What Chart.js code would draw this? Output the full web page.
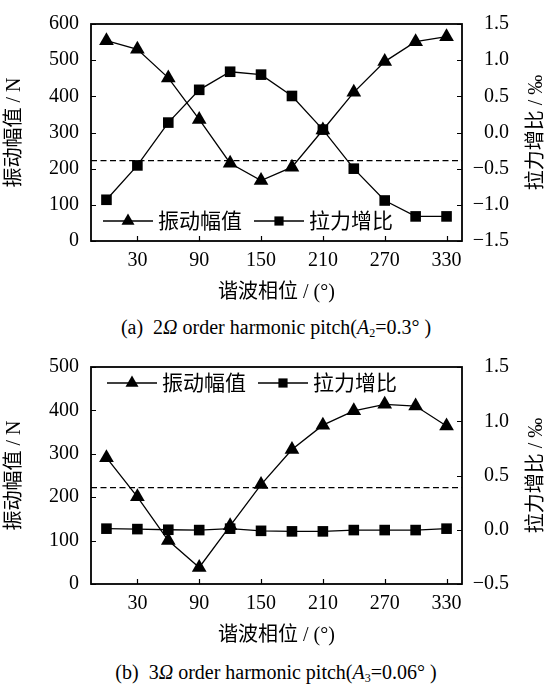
<!DOCTYPE html>
<html><head><meta charset="utf-8">
<script src="https://cdn.jsdelivr.net/npm/chart.js@4.4.1/dist/chart.umd.min.js"></script>
<style>
html,body{margin:0;padding:0;background:#fff;}
body{width:552px;height:684px;position:relative;overflow:hidden;}
.box{position:absolute;left:0;width:552px;height:312px;}
.cap{position:absolute;left:0;width:552px;text-align:center;font-family:'Liberation Serif','Noto Sans CJK SC',serif;font-size:20px;line-height:24px;color:#000;white-space:pre;}
.cap sub{font-size:12px;vertical-align:-3px;line-height:0}
</style></head>
<body>
<div class="box" style="top:0"><canvas id="cA"></canvas></div>
<div class="cap" style="top:315px">(a)  2<i>Ω</i> order harmonic pitch(<i>A</i><sub>2</sub>=0.3° )</div>
<div class="box" style="top:343px"><canvas id="cB"></canvas></div>
<div class="cap" style="top:660px">(b)  3<i>Ω</i> order harmonic pitch(<i>A</i><sub>3</sub>=0.06° )</div>
<script>
// ---- data ----
const phases = [0, 30, 60, 90, 120, 150, 180, 210, 240, 270, 300, 330];
const xTicks = [30, 90, 150, 210, 270, 330];
const xRange = [-15, 345];
const seriesNames = ['振动幅值', '拉力增比'];
const ampA   = [554, 530, 451, 336, 215, 167, 204, 307, 411, 496, 551, 565];
const ratioA = [-0.93, -0.455, 0.137, 0.59, 0.84, 0.80, 0.505, 0.04, -0.50, -0.94, -1.16, -1.16];
const ampB   = [291, 201, 100, 38, 134, 229, 310, 366, 399, 414, 410, 364];
const ratioB = [0.01, 0.006, 0, -0.003, 0.01, -0.01, -0.015, -0.015, -0.003, -0.003, -0.003, 0.01];
const refLevel = 222;
const leftTitle = '振动幅值 / N';
const rightTitle = '拉力增比 / ‰';
const xTitle = '谐波相位 / (°)';

const FONT = "'Liberation Serif','Noto Sans CJK SC',serif";

const framePlugin = {
  id: 'frameTicks',
  afterDatasetsDraw(chart, args, opts) {
    const {ctx, chartArea: a, scales} = chart;
    ctx.save();
    ctx.strokeStyle = '#000';
    ctx.lineWidth = 1.2;
    ctx.beginPath();
    const L = 5;
    scales.x.ticks.forEach(t => { const p = Math.round(scales.x.getPixelForValue(t.value)) + 0.5; ctx.moveTo(p, a.bottom); ctx.lineTo(p, a.bottom - L); });
    scales.y.ticks.forEach(t => { const p = Math.round(scales.y.getPixelForValue(t.value)) + 0.5; ctx.moveTo(a.left, p); ctx.lineTo(a.left + L, p); });
    scales.y1.ticks.forEach(t => { const p = Math.round(scales.y1.getPixelForValue(t.value)) + 0.5; ctx.moveTo(a.right, p); ctx.lineTo(a.right - L, p); });
    ctx.stroke();
    ctx.lineWidth = 1.8;
    ctx.strokeRect(a.left, a.top, a.right - a.left, a.bottom - a.top);
    // right axis title (reads bottom to top)
    ctx.translate(opts.rightTitleX, (a.top + a.bottom) / 2);
    ctx.rotate(-Math.PI / 2);
    ctx.font = '20px ' + FONT;
    ctx.fillStyle = '#000';
    ctx.textAlign = 'center';
    ctx.textBaseline = 'middle';
    ctx.fillText(rightTitle, 0, 0);
    ctx.restore();
  }
};

function drawMarker(ctx, style, x, y, r) {
  ctx.beginPath();
  if (style === 'triangle') {
    for (let i = 0; i < 3; i++) {
      const ang = i * 2 * Math.PI / 3;
      const px = x + Math.sin(ang) * r, py = y - Math.cos(ang) * r;
      if (i === 0) ctx.moveTo(px, py); else ctx.lineTo(px, py);
    }
    ctx.closePath();
  } else {
    const s = r * Math.SQRT1_2;
    ctx.rect(x - s, y - s, 2 * s, 2 * s);
  }
  ctx.fill();
}

const legendPlugin = {
  id: 'innerLegend',
  afterDraw(chart, args, opts) {
    const {ctx, chartArea: a} = chart;
    let x = a.left + opts.dx;
    const y = opts.fromBottom ? a.bottom - opts.dy : a.top + opts.dy;
    ctx.save();
    ctx.font = '21px ' + FONT;
    ctx.textBaseline = 'middle';
    ctx.textAlign = 'left';
    ctx.fillStyle = '#000';
    ctx.strokeStyle = '#000';
    [0, 1].forEach(i => {
      const ds = chart.data.datasets[i];
      ctx.lineWidth = 1.3;
      ctx.beginPath();
      ctx.moveTo(x, y); ctx.lineTo(x + 50, y);
      ctx.stroke();
      drawMarker(ctx, ds.pointStyle, x + 25, y, ds.pointStyle === 'triangle' ? 7.5 : 6.5);
      ctx.fillText(ds.label, x + 55, y + 1);
      x += 55 + ctx.measureText(ds.label).width + 12;
    });
    ctx.restore();
  }
};

function fmtRatio(v) {
  if (Math.abs(v) < 1e-9) return '0.0';
  return (v < 0 ? '−' : '') + Math.abs(v).toFixed(1);
}

function makeChart(id, amp, ratio, yMax, rMin, rMax, legendOpts) {
  const ampPts = phases.map((p, i) => ({x: p, y: amp[i]}));
  const ratioPts = phases.map((p, i) => ({x: p, y: ratio[i]}));
  const refPts = xRange.map(p => ({x: p, y: refLevel}));
  return new Chart(document.getElementById(id), {
    type: 'line',
    data: {
      datasets: [
        {label: seriesNames[0], data: ampPts, yAxisID: 'y', borderColor: '#000', backgroundColor: '#000',
         borderWidth: 1.3, pointStyle: 'triangle', pointRadius: 8.5, pointBorderWidth: 0, pointBackgroundColor: '#000', tension: 0},
        {label: seriesNames[1], data: ratioPts, yAxisID: 'y1', borderColor: '#000', backgroundColor: '#000',
         borderWidth: 1.3, pointStyle: 'rect', pointRadius: 7.5, pointBorderWidth: 0, pointBackgroundColor: '#000', tension: 0},
        {label: 'ref', data: refPts, yAxisID: 'y', borderColor: '#000', borderWidth: 1.2, borderDash: [6, 3.5], pointRadius: 0}
      ]
    },
    options: {
      responsive: true,
      maintainAspectRatio: false,
      animation: false,
      devicePixelRatio: 1,
      layout: {padding: {top: 18, right: 43, bottom: 0, left: 0}},
      plugins: {
        legend: {display: false},
        tooltip: {enabled: false},
        frameTicks: {rightTitleX: 537},
        innerLegend: legendOpts
      },
      scales: {
        x: {
          type: 'linear', min: xRange[0], max: xRange[1],
          afterBuildTicks: s => { s.ticks = xTicks.map(v => ({value: v})); },
          afterFit: s => { s.height = 71; },
          grid: {display: false, drawTicks: false},
          border: {display: false},
          ticks: {color: '#000', font: {family: FONT, size: 20}, padding: 8, maxRotation: 0, autoSkip: false},
          title: {display: true, text: xTitle, color: '#000', font: {family: FONT, size: 20}, padding: {top: 0, bottom: 7}}
        },
        y: {
          position: 'left', min: 0, max: yMax,
          ticks: {stepSize: 100, color: '#000', font: {family: FONT, size: 20}, padding: 12},
          afterFit: s => { s.width = 91; },
          grid: {display: false, drawTicks: false},
          border: {display: false},
          title: {display: true, text: leftTitle, color: '#000', font: {family: FONT, size: 20}, padding: {top: 3, bottom: 0}}
        },
        y1: {
          position: 'right', min: rMin, max: rMax,
          ticks: {stepSize: 0.5, color: '#000', font: {family: FONT, size: 20}, padding: 10, crossAlign: 'far', callback: v => fmtRatio(v)},
          afterFit: s => { s.width = 47; },
          grid: {display: false, drawTicks: false},
          border: {display: false}
        }
      }
    },
    plugins: [framePlugin, legendPlugin]
  });
}

makeChart('cA', ampA, ratioA, 600, -1.5, 1.5, {dx: 12, dy: 20, fromBottom: true});
makeChart('cB', ampB, ratioB, 500, -0.5, 1.5, {dx: 16, dy: 16, fromBottom: false});
</script>
</body></html>
